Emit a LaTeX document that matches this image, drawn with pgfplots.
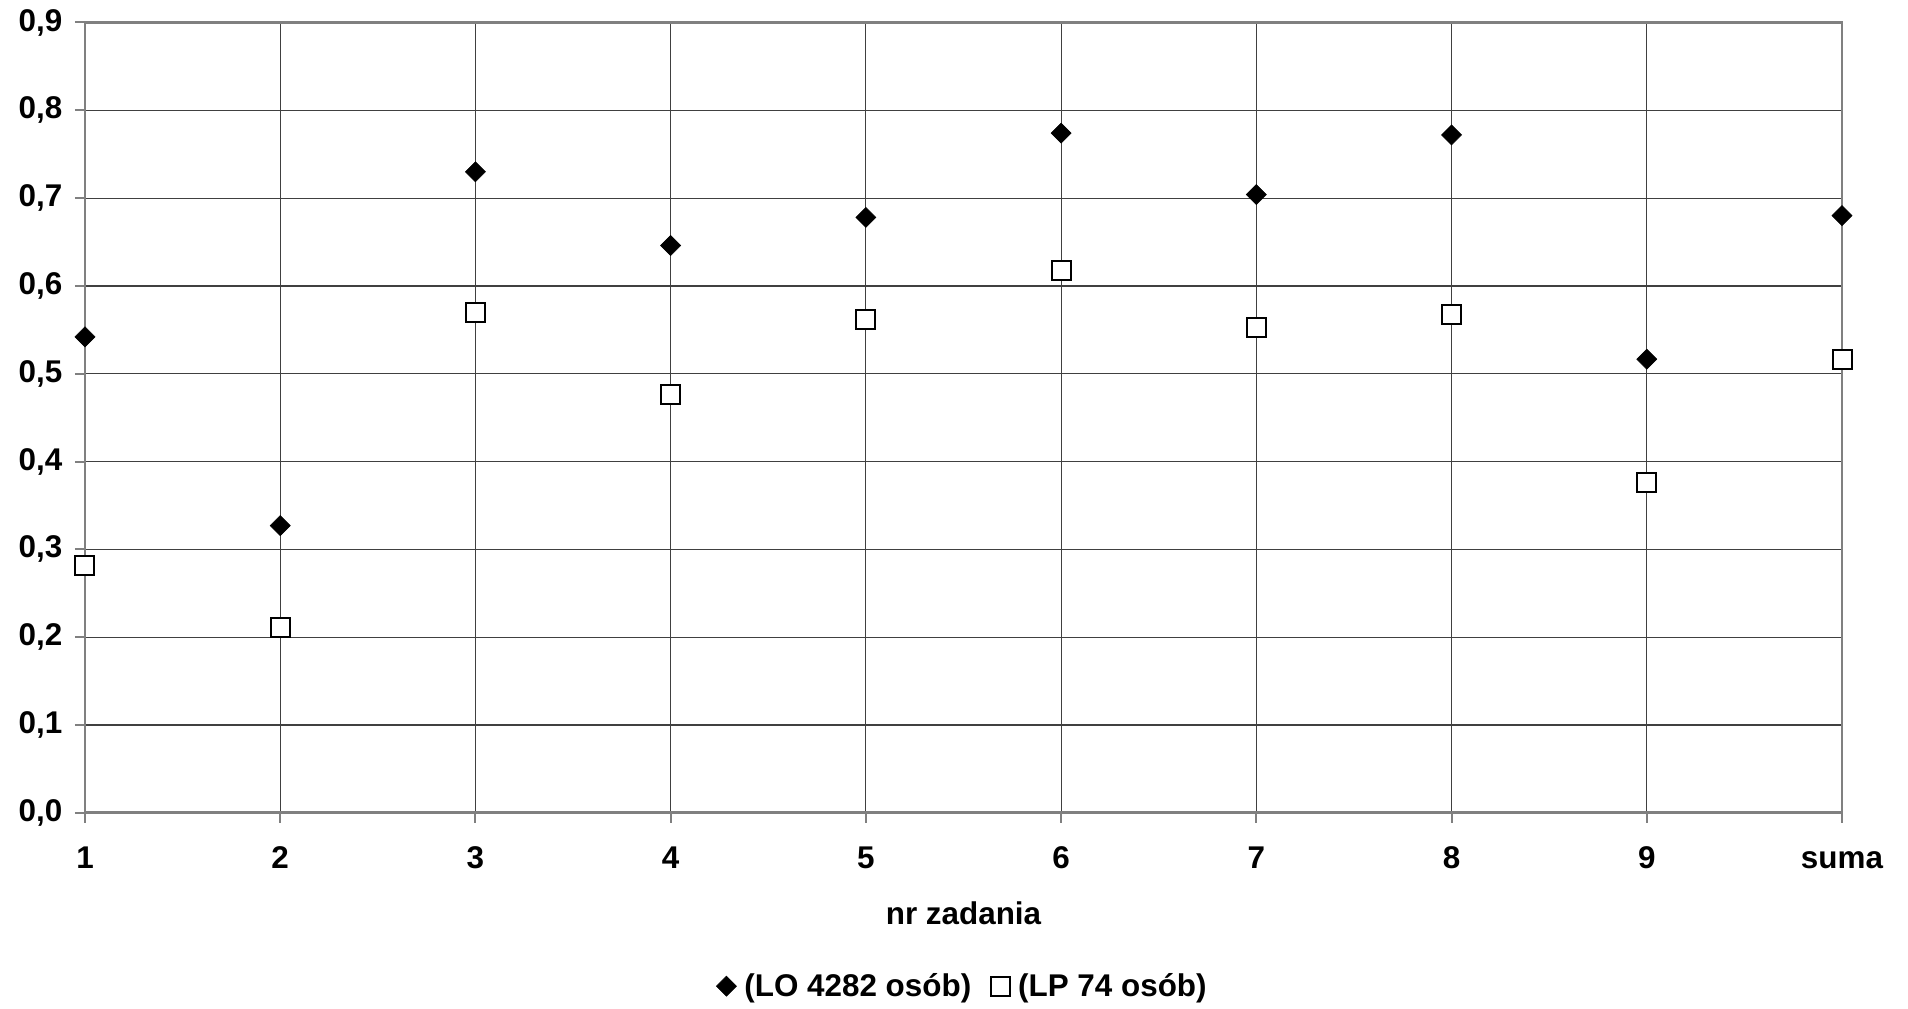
\documentclass[border=0pt]{standalone}
\usepackage{pgfplots}
\pgfplotsset{compat=1.18}
\usepackage{fontspec}
\setmainfont{Liberation Sans}
\begin{document}
\begin{tikzpicture}[font=\fontsize{15.7bp}{18bp}\selectfont\bfseries]
\begin{axis}[name=ax, scale only axis, width=878.5bp, height=395.1bp,
  xmin=0, xmax=9, ymin=0, ymax=0.9,
  xtick={0,...,9}, xticklabels={1,2,3,4,5,6,7,8,9,suma},
  ytick={0,0.1,0.2,0.3,0.4,0.5,0.6,0.7,0.8,0.9},
  /pgf/number format/assume math mode=true,
  yticklabel style={/pgf/number format/.cd,fixed,fixed zerofill,precision=1,use comma},
  xticklabel style={text height=11.2bp, text depth=0pt},
  yticklabel shift=2.8bp, xticklabel shift=8.1bp,
  grid=major, major grid style={black!75, line width=0.6bp},
  axis line style={gray, line width=1.3bp},
  tick style={gray, line width=1bp}, tick align=outside, major tick length=5bp,
  xtick pos=bottom, ytick pos=left,
  xlabel={nr zadania}, xlabel style={at={(0.5,-0.1421)}, anchor=base},
  legend style={at={(0.5,-0.2195)}, anchor=center, draw=none, legend columns=2,
    /tikz/every odd column/.append style={column sep=2bp},
    /tikz/every even column/.append style={column sep=8bp}},
  legend cell align=left,
]
\addplot[only marks, mark=square*, mark size=3.54bp, mark options={rotate=45, fill=black, draw=black, line width=0.3bp}]
 coordinates {(0,0.542) (1,0.327) (2,0.730) (3,0.646) (4,0.678) (5,0.774) (6,0.704) (7,0.772) (8,0.5165) (9,0.680)};
\addlegendentry{(LO 4282 osób)}
\addplot[only marks, mark=square*, mark size=4.75bp, mark options={fill=white, draw=black, line width=1bp}]
 coordinates {(0,0.2815) (1,0.211) (2,0.570) (3,0.476) (4,0.562) (5,0.618) (6,0.553) (7,0.567) (8,0.376) (9,0.516)};
\addlegendentry{(LP 74 osób)}
\end{axis}
\pgfresetboundingbox
\path (ax.south west) ++(-42.5bp,-98.15bp) rectangle ++(954bp,504.5bp);
\end{tikzpicture}
\end{document}
